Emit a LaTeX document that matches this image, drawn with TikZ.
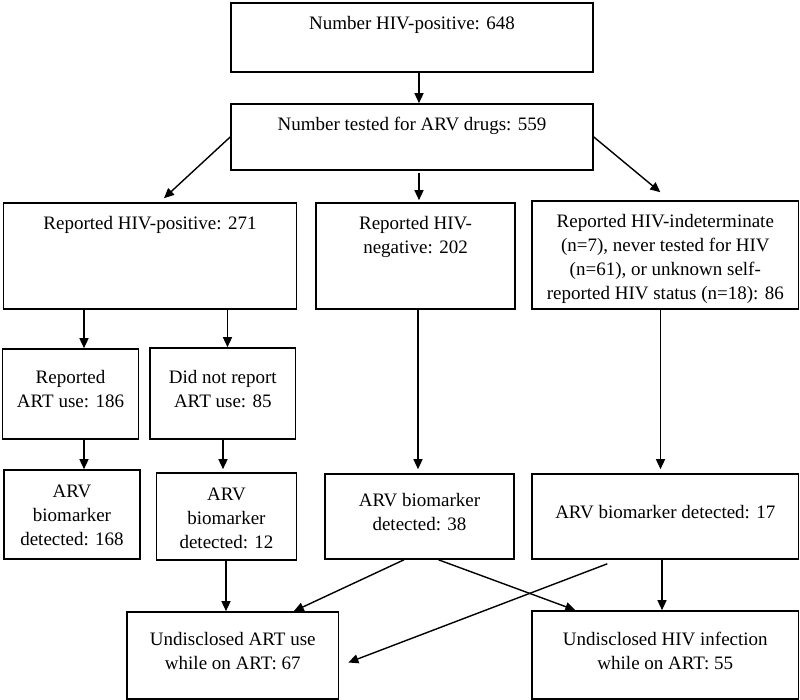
\documentclass[tikz,border=0pt]{standalone}
\usepackage{fontspec}
\setmainfont{Liberation Serif}
\usetikzlibrary{arrows.meta}
\begin{document}
\begin{tikzpicture}[x=1pt,y=-1pt,
  box/.style={draw=black, line width=1.6pt, rectangle, inner sep=0pt},
  txt/.style={align=center, inner sep=0pt, font=\fontsize{19}{24}\selectfont},
  arr/.style={line width=1.4pt, -{Triangle[length=10pt,width=9pt]}}]
\useasboundingbox (0,0) rectangle (800,700);
% boxes
\node[box, minimum width=362pt, minimum height=69pt] (A) at (412,37.5) {};
\node[box, minimum width=362pt, minimum height=66pt] (B) at (412,137) {};
\node[box, minimum width=293pt, minimum height=106pt] (C) at (150,256) {};
\node[box, minimum width=199pt, minimum height=106pt] (D) at (415.5,256) {};
\node[box, minimum width=266.6pt, minimum height=108pt] (E) at (665.3,255) {};
\node[box, minimum width=136pt, minimum height=90pt] (F) at (70.5,394) {};
\node[box, minimum width=145.5pt, minimum height=91pt] (G) at (222.8,393.5) {};
\node[box, minimum width=136pt, minimum height=89pt] (H) at (72,514.5) {};
\node[box, minimum width=140pt, minimum height=87pt] (I) at (226.5,516.5) {};
\node[box, minimum width=189pt, minimum height=85pt] (J) at (419.5,516.5) {};
\node[box, minimum width=266.6pt, minimum height=85pt] (K) at (665.3,516.5) {};
\node[box, minimum width=211.5pt, minimum height=87pt] (L) at (232.8,655.5) {};
\node[box, minimum width=266.6pt, minimum height=88pt] (M) at (665.3,655) {};
% texts
\node[txt] (At) at (412,25) {Number HIV-positive: 648};
\node[txt] (Bt) at (412,126) {Number tested for ARV drugs: 559};
\node[txt] (Ct) at (150,225) {Reported HIV-positive: 271};
\node[txt] (Dt) at (415.5,237) {Reported HIV-\\negative: 202};
\node[txt] (Et) at (665.3,258.5) {Reported HIV-indeterminate\\(n=7), never tested for HIV\\(n=61), or unknown self-\\reported HIV status (n=18): 86};
\node[txt] (Ft) at (70.5,389) {Reported\\ART use: 186};
\node[txt] (Gt) at (222.8,389) {Did not report\\ART use: 85};
\node[txt] (Ht) at (72,515.5) {ARV\\biomarker\\detected: 168};
\node[txt] (It) at (226.5,518) {ARV\\biomarker\\detected: 12};
\node[txt] (Jt) at (419.5,512) {ARV biomarker\\detected: 38};
\node[txt] (Kt) at (665.3,512) {ARV biomarker detected: 17};
\node[txt] (Lt) at (232.8,651.5) {Undisclosed ART use\\while on ART: 67};
\node[txt] (Mt) at (665.3,651) {Undisclosed HIV infection\\while on ART: 55};
% connectors
\draw[arr] ([xshift=7pt]A.south) -- ([xshift=7pt]B.north);
\draw[arr] (B.west) -- ([xshift=14pt,yshift=4pt]C.north);
\draw[arr] ([xshift=7pt,yshift=-2pt]B.south) -- ([xshift=3.5pt,yshift=2pt]D.north);
\draw[arr] (B.east) -- ([xshift=-5pt,yshift=8pt]E.north);
\draw[arr] ([xshift=-66pt]C.south) -- ([xshift=13.5pt]F.north);
\draw[arr] ([xshift=77.5pt]C.south) -- ([xshift=4.7pt]G.north);
\draw[arr] ([xshift=13.5pt]F.south) -- ([xshift=12pt]H.north);
\draw[arr] ([xshift=0.2pt]G.south) -- ([xshift=-3.5pt,yshift=3pt]I.north);
\draw[arr] ([xshift=2.5pt]D.south) -- ([xshift=-1.5pt,yshift=4pt]J.north);
\draw[arr] ([xshift=-4.8pt]E.south) -- ([xshift=-4.8pt,yshift=4pt]K.north);
\draw[arr] ([xshift=-0.5pt]I.south) -- ([xshift=-6.8pt]L.north);
\draw[arr] ([xshift=-15.5pt]J.south) -- ([xshift=61pt]L.north);
\draw[arr] ([xshift=19pt]J.south) -- ([xshift=-90pt]M.north);
\draw[arr] ([xshift=-58pt,yshift=-4pt]K.south) -- ([shift={(9,7)}]L.east);
\draw[arr] ([xshift=-3.3pt]K.south) -- ([xshift=-3.3pt]M.north);
\end{tikzpicture}
\end{document}
